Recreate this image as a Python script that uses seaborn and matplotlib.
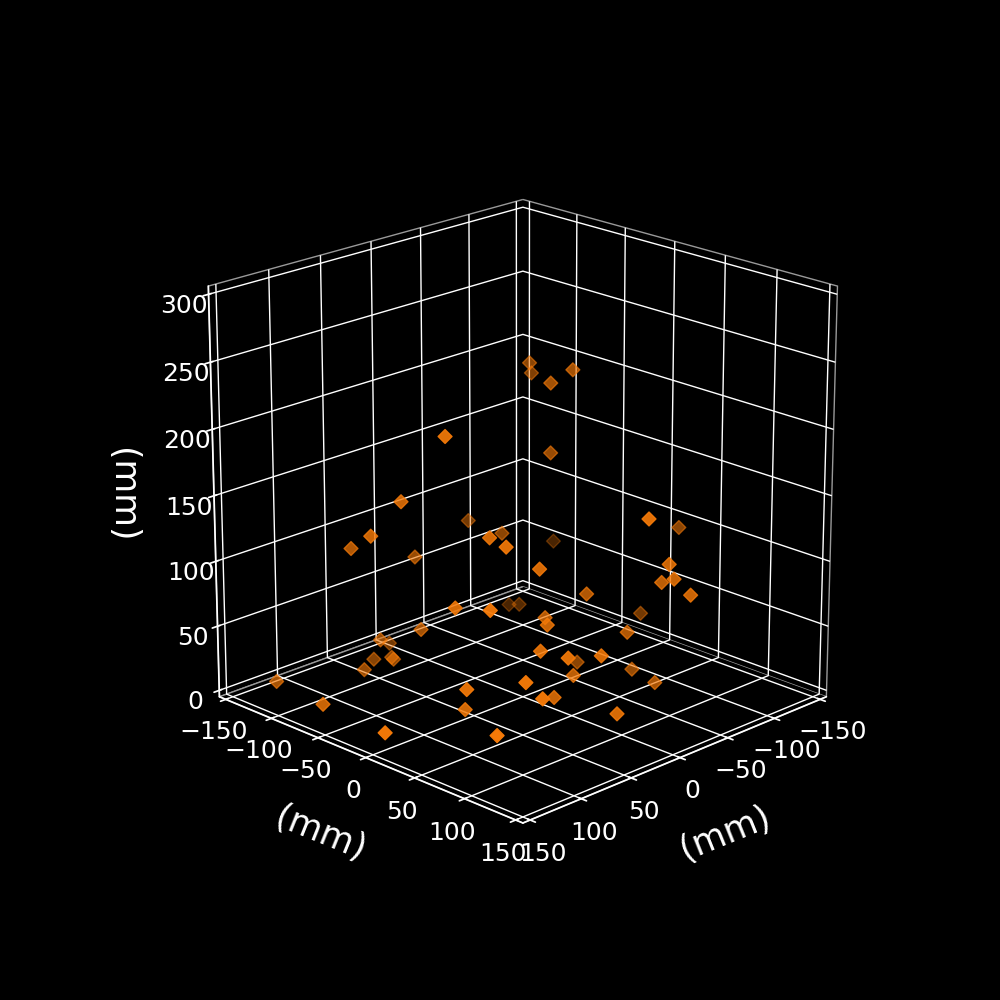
import matplotlib
matplotlib.use("Agg")
import matplotlib.pyplot as plt
import seaborn as sns

sns.set_theme(style="white")
plt.style.use("dark_background")

x_mm = [-96, -106, -82, -96, 32, -80, 46, -56, 68, 61, 9, 17, -51, 20, -135, -3, -57, -145, -80,
        -84, -80, -86, -53, -131, -67, -27, -7, 11, 8, -67, -19, -84, -22, -79, 47, 45, -99, -94,
        29, 42, 6, 36, 29, 29, 55, 116, 121, 65, 43, 55, 125, 72, 37, 2, -17]
y_mm = [-89, -97, -53, -44, -47, -51, -79, -114, -88, -117, -104, -17, -73, 3, -102, 14, 71, 19, 70,
        59, 75, 86, 13, -6, 41, -4, 18, 29, 54, -10, 61, 30, 30, 58, -22, 12, -114, -98,
        -77, -107, -136, -121, -109, -107, -111, -140, -84, 8, 46, -4, -14, 46, 57, 34, 79]
z_mm = [207, 195, 203, 212, 191, 150, 137, 87, 114, 95, 78, 118, 89, 117, 53, 97, 136, 93, 95,
        77, 85, 74, 64, 22, 38, 48, 54, 42, 43, 0, 39, 1, 14, 0, 71, 78, 8, 14,
        34, 21, 0, 0, 3, 2, 0, 0, 0, 22, 32, 0, 0, 0, 21, 5, 0]

xy_ticks = [-150, -100, -50, 0, 50, 100, 150]
z_ticks = [0, 50, 100, 150, 200, 250, 300]

fig = plt.figure(figsize=(10, 10), dpi=100)
ax = fig.add_subplot(projection="3d")
ax.set_position([0.125, 0.1095, 0.775, 0.77])
ax.view_init(elev=20, azim=45)
ax.set_box_aspect((1, 1, 1), zoom=0.954)

ax.scatter(x_mm, y_mm, z_mm, marker="D", s=50, color="#f57a08")

ax.set_xlim(-157, 157)
ax.set_ylim(-157, 157)
ax.set_zlim(-5, 306)
ax.set_xticks(xy_ticks)
ax.set_yticks(xy_ticks)
ax.set_zticks(z_ticks)
ax.tick_params(labelsize=18)

ax.set_xlabel("(mm)", fontsize=25, labelpad=20, rotation=22)
ax.set_ylabel("(mm)", fontsize=25, labelpad=20, rotation=-22)
ax.set_zlabel("(mm)", fontsize=25, labelpad=22, rotation=-90)

for axis in (ax.xaxis, ax.yaxis, ax.zaxis):
    axis.set_pane_color((0, 0, 0, 1))
    axis.pane.set_edgecolor("#999999")
    axis._axinfo["grid"]["color"] = "white"
    axis._axinfo["grid"]["linewidth"] = 1.0

fig.savefig("out.png", facecolor="black")
